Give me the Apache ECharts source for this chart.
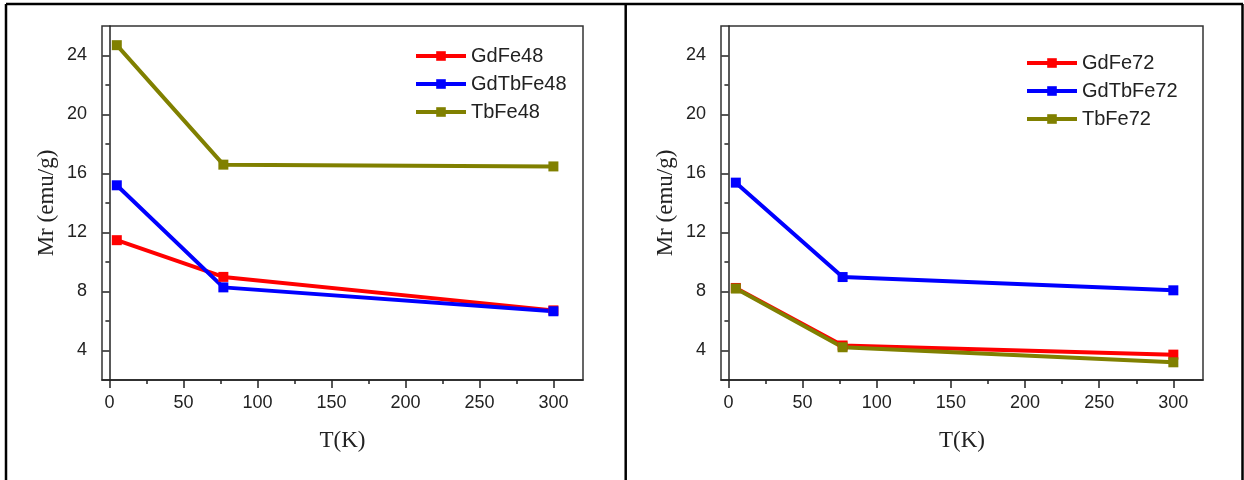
<!DOCTYPE html>
<html>
<head>
<meta charset="utf-8">
<script src="https://cdn.jsdelivr.net/npm/echarts@6/dist/echarts.min.js"></script>
<style>
html,body{margin:0;padding:0;background:#fff;}
#chart{width:1244px;height:480px;}
</style>
</head>
<body>
<div id="chart"></div>
<script>
// ---- data ----
const temperatures = [5, 77, 300];
const leftNames = ['GdFe48', 'GdTbFe48', 'TbFe48'];
const gdFe48 = [11.48, 8.99, 6.72];
const gdTbFe48 = [15.2, 8.28, 6.66];
const tbFe48 = [24.7, 16.6, 16.48];
const rightNames = ['GdFe72', 'GdTbFe72', 'TbFe72'];
const gdFe72 = [8.24, 4.34, 3.72];
const gdTbFe72 = [15.38, 8.98, 8.08];
const tbFe72 = [8.2, 4.22, 3.2];
const xMajorTicks = [0, 50, 100, 150, 200, 250, 300];
const xMinorTicks = [25, 75, 125, 175, 225, 275];
const yMajorTicks = [4, 8, 12, 16, 20, 24];
const yMinorTicks = [6, 10, 14, 18, 22];
const xTitle = 'T(K)';
const yTitle = 'Mr (emu/g)';

const colors = ['#ff0000', '#0000ff', '#808000'];
const sans = '"Liberation Sans", Arial, sans-serif';
const serif = '"Liberation Serif", "Times New Roman", serif';

const grids = [
  {left: 102, top: 26, width: 481, height: 354},
  {left: 721, top: 26, width: 482, height: 354}
];

function mainX(gi) {
  return {
    type: 'value', gridIndex: gi, position: 'bottom', min: -5, max: 320,
    name: xTitle, nameLocation: 'middle', nameGap: 49,
    nameTextStyle: {fontFamily: serif, fontSize: 23, color: '#222'},
    axisLine: {show: true, lineStyle: {color: '#222', width: 1.5}},
    axisTick: {show: true, inside: false, length: 8, customValues: xMajorTicks, lineStyle: {color: '#222', width: 1.5}},
    axisLabel: {show: true, margin: 14, customValues: xMajorTicks, fontFamily: sans, fontSize: 18, color: '#222'},
    splitLine: {show: false}
  };
}
function minorX(gi) {
  return {
    type: 'value', gridIndex: gi, position: 'bottom', min: -5, max: 320,
    axisLine: {show: false},
    axisTick: {show: true, length: 4, customValues: xMinorTicks, lineStyle: {color: '#222', width: 1.5}},
    axisLabel: {show: false},
    splitLine: {show: false}
  };
}
function mainY(gi) {
  return {
    type: 'value', gridIndex: gi, position: 'left', min: 2, max: 26,
    name: yTitle, nameLocation: 'middle', nameGap: 44, nameRotate: 90,
    nameTextStyle: {fontFamily: serif, fontSize: 23, color: '#222'},
    axisLine: {show: true, lineStyle: {color: '#222', width: 1.5}},
    axisTick: {show: true, length: 7, customValues: yMajorTicks, lineStyle: {color: '#222', width: 1.5}},
    axisLabel: {show: true, margin: 15, customValues: yMajorTicks, fontFamily: sans, fontSize: 18, color: '#222'},
    splitLine: {show: false}
  };
}
function minorY(gi) {
  return {
    type: 'value', gridIndex: gi, position: 'left', min: 2, max: 26,
    axisLine: {show: false},
    axisTick: {show: true, length: 4, customValues: yMinorTicks, lineStyle: {color: '#222', width: 1.5}},
    axisLabel: {show: false},
    splitLine: {show: false}
  };
}

function makeSeries(name, vals, color, gi) {
  return {
    type: 'line', name: name, xAxisIndex: gi * 2, yAxisIndex: gi * 2,
    data: temperatures.map((t, i) => [t, vals[i]]),
    symbol: 'rect', symbolSize: 10,
    lineStyle: {color: color, width: 4},
    itemStyle: {color: color},
    emphasis: {disabled: true},
    animation: false
  };
}

const legendBase = {
  orient: 'vertical', itemWidth: 50, itemHeight: 12, itemGap: 8,
  textStyle: {fontFamily: sans, fontSize: 20, color: '#222', lineHeight: 20},
  lineStyle: {width: 4},
  selectedMode: false
};

const option = {
  animation: false,
  grid: grids.map(g => Object.assign({show: true, borderColor: '#333', borderWidth: 1.5, backgroundColor: 'transparent'}, g)),
  xAxis: [mainX(0), minorX(0), mainX(1), minorX(1)],
  yAxis: [mainY(0), minorY(0), mainY(1), minorY(1)],
  legend: [
    Object.assign({}, legendBase, {left: 409, top: 41, data: leftNames}),
    Object.assign({}, legendBase, {left: 1020, top: 48, data: rightNames})
  ],
  series: [
    makeSeries(leftNames[0], gdFe48, colors[0], 0),
    makeSeries(leftNames[1], gdTbFe48, colors[1], 0),
    makeSeries(leftNames[2], tbFe48, colors[2], 0),
    makeSeries(rightNames[0], gdFe72, colors[0], 1),
    makeSeries(rightNames[1], gdTbFe72, colors[1], 1),
    makeSeries(rightNames[2], tbFe72, colors[2], 1)
  ],
  graphic: [
    {type: 'line', shape: {x1: 6, y1: 4, x2: 1243, y2: 4}, style: {stroke: '#000', lineWidth: 2.5}},
    {type: 'line', shape: {x1: 6, y1: 4, x2: 6, y2: 480}, style: {stroke: '#000', lineWidth: 2.5}},
    {type: 'line', shape: {x1: 625.7, y1: 4, x2: 625.7, y2: 480}, style: {stroke: '#000', lineWidth: 2.5}},
    {type: 'line', shape: {x1: 1242.5, y1: 4, x2: 1242.5, y2: 480}, style: {stroke: '#000', lineWidth: 2.5}}
  ]
};

const chart = echarts.init(document.getElementById('chart'), null, {renderer: 'canvas'});
chart.setOption(option);
</script>
</body>
</html>
